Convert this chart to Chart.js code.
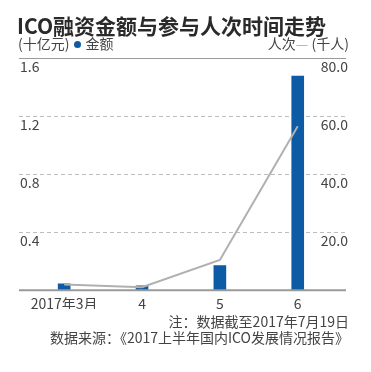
<!DOCTYPE html>
<html>
<head>
<meta charset="utf-8">
<script src="https://cdn.jsdelivr.net/npm/chart.js@4.4.1/dist/chart.umd.min.js"></script>
<style>
  html, body { margin: 0; padding: 0; background: #fff; }
  body { width: 371px; height: 372px; position: relative; overflow: hidden;
         font-family: 'Liberation Sans Narrow', 'Noto Sans CJK SC', sans-serif; color: #444; }
  #chart { position: absolute; left: 0; top: 0; }
  .txt { position: absolute; white-space: nowrap; font-size: 14px; line-height: 16px; }
  #title { left: 17px; top: 13px; font-size: 21px; line-height: 24px; font-weight: bold; color: #2a2a2a;
           font-family: 'Noto Sans CJK SC', sans-serif; }
  .dot { display: inline-block; width: 7px; height: 7px; border-radius: 50%; background: #0d5aa5; vertical-align: 1px; margin: 0 4px 0 5px; }
  .dash { color: #b0b0b0; }
</style>
</head>
<body>
<canvas id="chart" width="371" height="372"></canvas>
<div id="title" class="txt">ICO融资金额与参与人次时间走势</div>
<div class="txt" style="left:18px; top:35px;">(十亿元)<span class="dot"></span>金额</div>
<div class="txt" style="right:22px; top:35px;">人次<span class="dash">—</span> (千人)</div>
<div class="txt" style="right:22px; top:313px;">注：数据截至2017年7月19日</div>
<div class="txt" style="right:22px; top:329px;">数据来源：《2017上半年国内ICO发展情况报告》</div>
<script>
// months on the x axis
const months = ['2017年3月', '4', '5', '6'];
// ICO funding, billion yuan (十亿元)
const amounts = [0.044, 0.03, 0.17, 1.475];
// participants, thousand people (千人)
const participants = [2.0, 1.0, 10.4, 56.5];

const BLUE = '#0d5aa5';
const GREY_LINE = '#b0b0b0';
const FONT = "'Liberation Sans Narrow', 'Noto Sans CJK SC', sans-serif";

// solid top rule and baseline across the plot
const rules = {
  id: 'rules',
  afterDraw(chart) {
    const { ctx, chartArea, scales } = chart;
    const yTop = scales.y.getPixelForValue(1.6);
    const yBase = scales.y.getPixelForValue(0);
    ctx.save();
    ctx.strokeStyle = '#9a9a9a';
    ctx.lineWidth = 1;
    ctx.beginPath();
    ctx.moveTo(chartArea.left, yTop + 0.5);
    ctx.lineTo(chartArea.right, yTop + 0.5);
    ctx.stroke();
    ctx.lineWidth = 2;
    ctx.beginPath();
    ctx.moveTo(chartArea.left, yBase);
    ctx.lineTo(chartArea.right, yBase);
    ctx.stroke();
    ctx.restore();
  }
};

new Chart(document.getElementById('chart'), {
  data: {
    datasets: [
      {
        type: 'line',
        data: participants.map((v, i) => ({ x: i, y: v })),
        yAxisID: 'y1',
        borderColor: GREY_LINE,
        borderWidth: 2,
        pointRadius: 0,
        tension: 0,
        order: 1
      },
      {
        type: 'bar',
        data: amounts.map((v, i) => ({ x: i, y: v })),
        yAxisID: 'y',
        backgroundColor: BLUE,
        barThickness: 12,
        order: 2
      }
    ]
  },
  options: {
    responsive: false,
    animation: false,
    layout: { padding: { left: 17, right: 21, top: 58, bottom: 63 } },
    plugins: { legend: { display: false }, tooltip: { enabled: false } },
    scales: {
      x: {
        type: 'linear',
        offset: false,
        min: -0.58,
        max: 3.62,
        grid: { display: false },
        border: { display: false },
        ticks: {
          stepSize: 1,
          includeBounds: false,
          autoSkip: false,
          maxRotation: 0,
          padding: -3,
          color: '#444',
          font: { family: FONT, size: 14 },
          callback: (v) => Number.isInteger(v) && months[v] !== undefined ? months[v] : ''
        }
      },
      y: {
        position: 'left',
        min: 0,
        max: 1.6,
        grid: {
          drawTicks: false,
          color: (c) => (c.tick.value === 0 || c.tick.value === 1.6) ? 'rgba(0,0,0,0)' : '#bdbdbd'
        },
        border: { display: false, dash: [4, 3] },
        ticks: {
          stepSize: 0.4,
          mirror: true,
          padding: 1,
          labelOffset: 9,
          color: '#444',
          font: { family: FONT, size: 14 },
          callback: (v) => v === 0 ? '' : v.toFixed(1)
        }
      },
      y1: {
        position: 'right',
        min: 0,
        max: 80,
        grid: { display: false, drawTicks: false },
        border: { display: false },
        ticks: {
          stepSize: 20,
          mirror: true,
          padding: 2,
          labelOffset: 9,
          color: '#444',
          font: { family: FONT, size: 14 },
          callback: (v) => v === 0 ? '' : v.toFixed(1)
        }
      }
    }
  },
  plugins: [rules]
});
</script>
</body>
</html>
